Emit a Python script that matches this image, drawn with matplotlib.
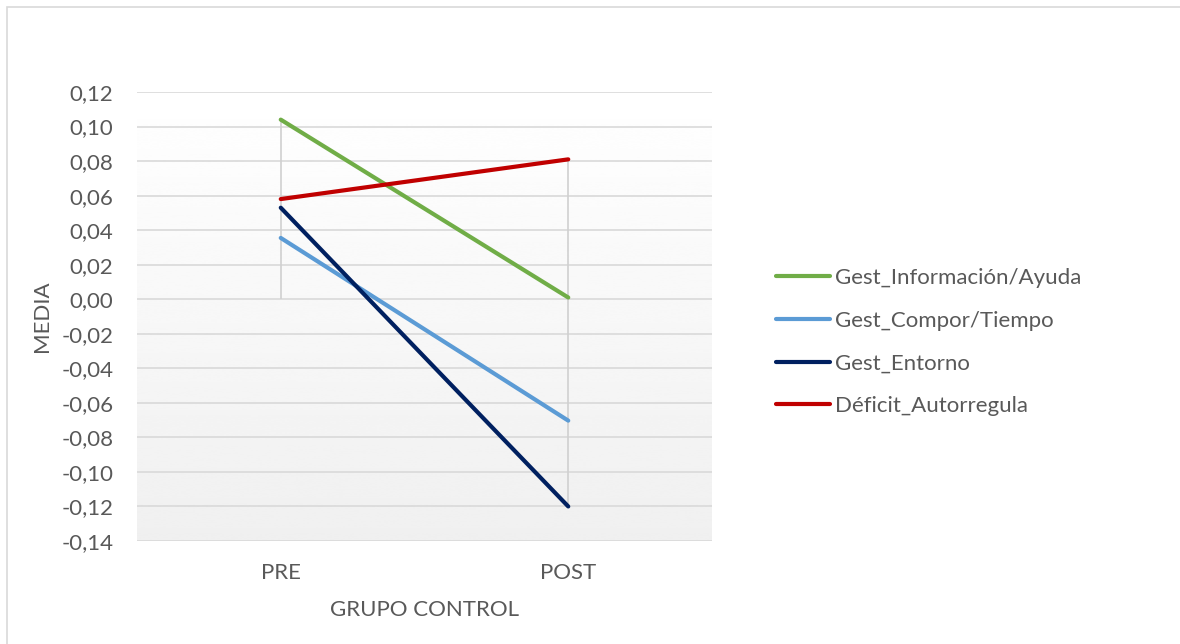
import numpy as np
import matplotlib.pyplot as plt
from matplotlib.patches import Rectangle

plt.rcParams['font.family'] = ['Lato', 'DejaVu Sans']

# data
categories = ['PRE', 'POST']
series_names = ['Gest_Información/Ayuda', 'Gest_Compor/Tiempo', 'Gest_Entorno', 'Déficit_Autorregula']
info_ayuda = [0.104, 0.001]
compor_tiempo = [0.0355, -0.0703]
entorno = [0.053, -0.120]
deficit = [0.058, 0.081]
yticks = np.arange(-0.14, 0.1201, 0.02)

series = [info_ayuda, compor_tiempo, entorno, deficit]
line_colors = ['#70AD47', '#5B9BD5', '#002060', '#C00000']
text_color = '#595959'
fs = 16

fig = plt.figure(figsize=(11.8, 6.44), dpi=100)
ax = fig.add_axes([137/1180, 1-541/644, 575/1180, 449/644])

# outer border (only top/left visible in the reference)
fig.patches.append(Rectangle((7/1180, -0.1), 1.2, 1-7/644+0.1, transform=fig.transFigure,
                             fill=False, edgecolor='#d9d9d9', linewidth=1.2))

x = np.arange(len(categories))
ax.set_xlim(-0.5, len(categories) - 0.5)
ax.set_ylim(-0.14, 0.12)

# gradient background of the plot area
grad = np.linspace(1.0, 0.94, 256).reshape(-1, 1)
ax.imshow(grad, extent=(-0.5, 1.5, -0.14, 0.12), aspect='auto', cmap='gray',
          vmin=0, vmax=1, zorder=0, interpolation='bicubic')

for v in yticks:
    ax.axhline(v, color='#d9d9d9', linewidth=1.2, zorder=1)

# drop lines from points to zero
for i in x:
    vals = [s[i] for s in series]
    lo, hi = min(min(vals), 0), max(max(vals), 0)
    ax.vlines(i, lo, hi, color='#d0d0d0', linewidth=1.2, zorder=2)

for s, name, c in zip(series, series_names, line_colors):
    ax.plot(x, s, color=c, linewidth=3.0, label=name, zorder=3, solid_capstyle='round')

for sp in ax.spines.values():
    sp.set_visible(False)

ax.set_xticks(x)
ax.set_xticklabels(categories, fontsize=fs, color=text_color)
ax.set_yticks(yticks)
ax.set_yticklabels([f'{v:.2f}'.replace('.', ',').replace('-0,00', '0,00') for v in yticks],
                   fontsize=fs, color=text_color)
ax.tick_params(length=0)
ax.tick_params(axis='y', pad=17)
ax.tick_params(axis='x', pad=16)
ax.set_xlabel('GRUPO CONTROL', fontsize=fs, color=text_color, labelpad=12)
ax.set_ylabel('MEDIA', fontsize=fs, color=text_color, labelpad=7)

ax.legend(loc='center left', bbox_to_anchor=(776/1180, 1-342/644), bbox_transform=fig.transFigure,
          frameon=False, fontsize=fs, labelcolor=text_color, handlelength=2.45,
          handletextpad=0.2, labelspacing=1.02, borderpad=0, borderaxespad=0)

fig.savefig('out.png', dpi=100)
